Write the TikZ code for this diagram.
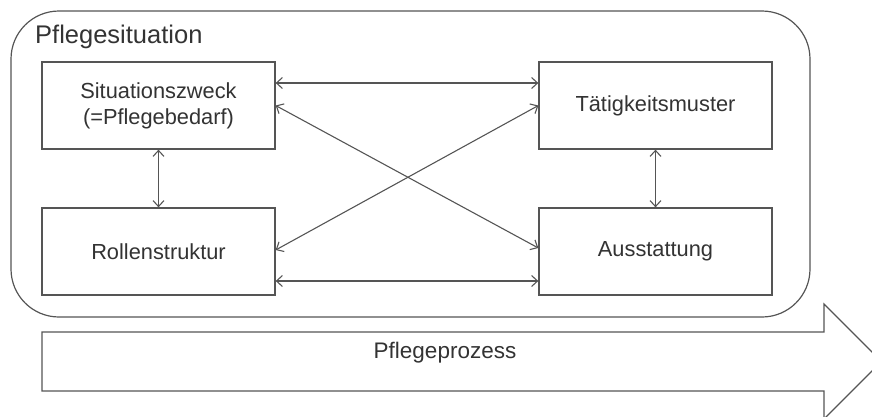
\documentclass[tikz,border=0pt]{standalone}
\usepackage{fontspec}
\setmainfont{Liberation Sans}
\usetikzlibrary{arrows.meta}
\definecolor{linegray}{HTML}{555555}
\definecolor{textgray}{HTML}{333333}
\begin{document}
\begin{tikzpicture}[x=1pt,y=-1pt,
  box/.style={draw=linegray, line width=1.3pt, fill=white, minimum width=233pt, minimum height=87pt,
    inner sep=0pt, align=center, font=\fontsize{21.8}{26}\selectfont, text=textgray},
  link/.style={draw=linegray, line width=1.1pt, {Straight Barb[length=6pt,width=11pt]}-{Straight Barb[length=6pt,width=11pt]}}]
  \useasboundingbox (0,0) rectangle (872,416);
  \clip (0,0) rectangle (872,416);

  % situation frame
  \draw[linegray, line width=1.2pt, rounded corners=48pt] (11,11) rectangle (810,317);
  \node[anchor=base west, font=\fontsize{25.5}{28}\selectfont, text=textgray, inner sep=0pt] (title) at (35,43) {Pflegesituation};

  % four elements of the situation
  \node[box] (zweck) at (158.5,105.5) {Situationszweck\\(=Pflegebedarf)};
  \node[box] (taetig) at (655.5,105.5) {Tätigkeitsmuster};
  \node[box] (rolle) at (158.5,251.5) {Rollenstruktur};
  \node[box] (ausst) at (655.5,251.5) {Ausstattung};

  % mutual relations
  \draw[link] ([yshift=22.5pt]zweck.east) -- ([yshift=22.5pt]taetig.west);
  \draw[link] ([yshift=-29.5pt]rolle.east) -- ([yshift=-29.5pt]ausst.west);
  \draw[link] (zweck.east) -- ([yshift=3.5pt]ausst.west);
  \draw[link] ([yshift=1.5pt]rolle.east) -- (taetig.west);
  \draw[link] (zweck.south) -- (rolle.north);
  \draw[link] (taetig.south) -- (ausst.north);

  % process arrow
  \draw[linegray, line width=1.2pt, fill=white] (42,332) -- (824,332) -- (824,304) -- (881.5,361.5)
    -- (824,419) -- (824,391) -- (42,391) -- cycle;
  \node[font=\fontsize{22.5}{26}\selectfont, text=textgray, inner sep=0pt] (prozess) at (445,352.5) {Pflegeprozess};
\end{tikzpicture}
\end{document}
